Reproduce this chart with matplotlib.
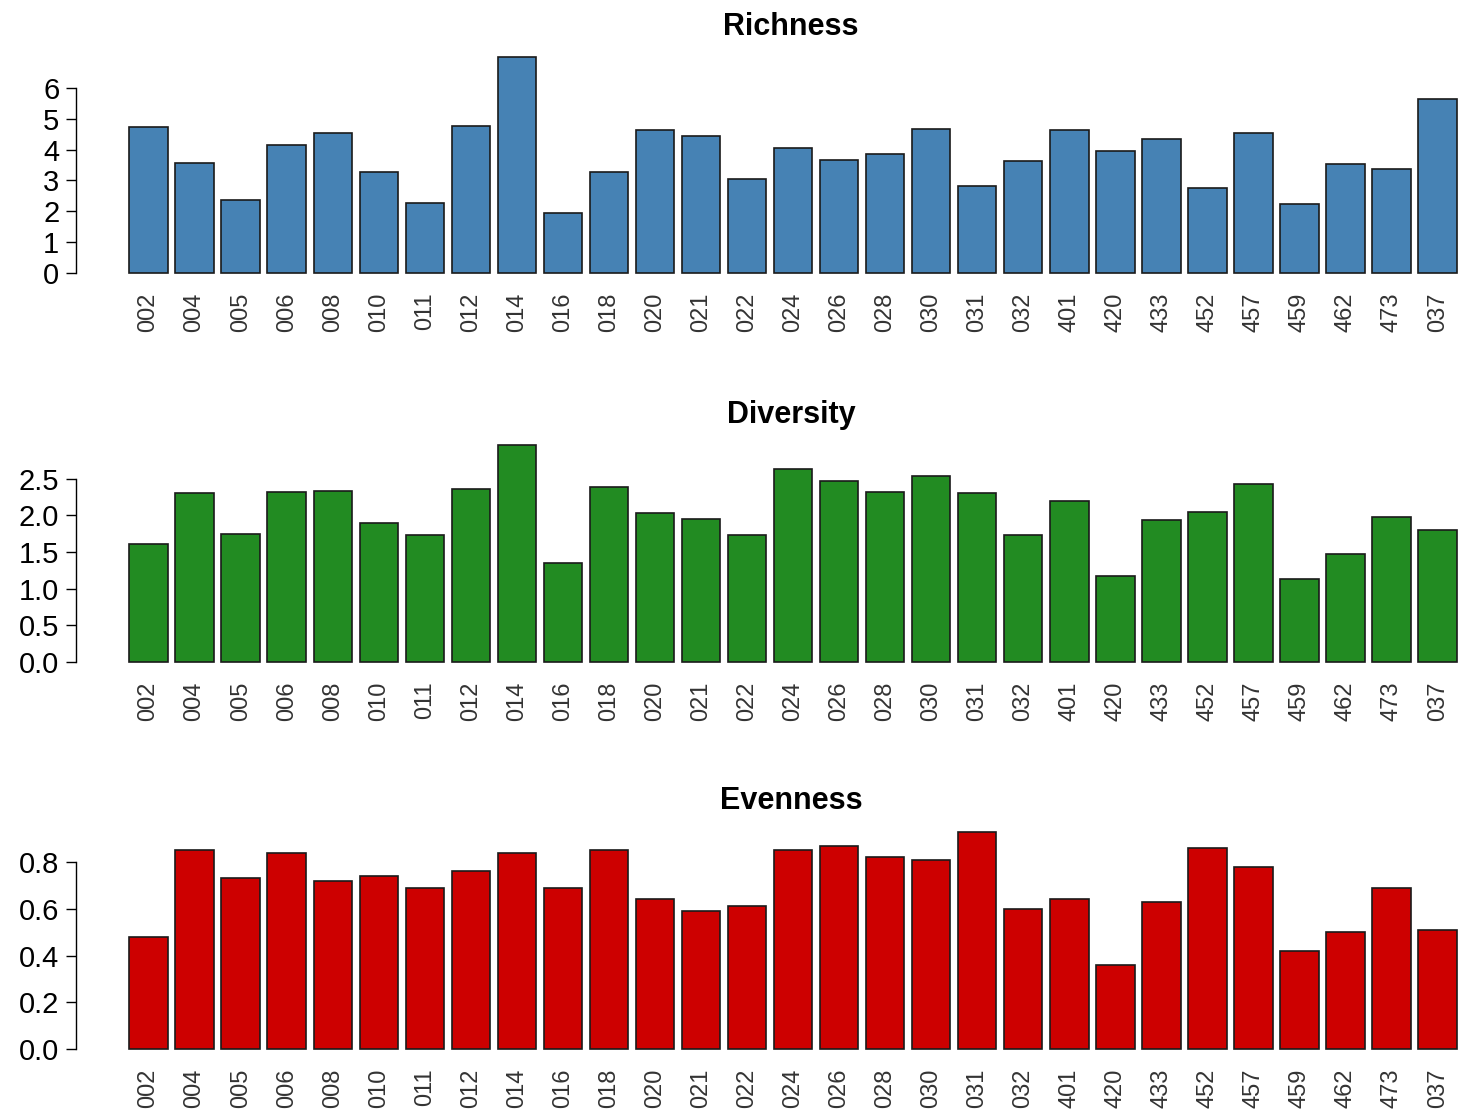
import numpy as np
import matplotlib
matplotlib.use('Agg')
import matplotlib.pyplot as plt

plt.rcParams['font.family'] = ['Liberation Sans', 'DejaVu Sans']

sites = ['002', '004', '005', '006', '008', '010', '011', '012', '014', '016',
         '018', '020', '021', '022', '024', '026', '028', '030', '031', '032',
         '401', '420', '433', '452', '457', '459', '462', '473', '037']

richness = [4.74, 3.57, 2.37, 4.15, 4.54, 3.28, 2.27, 4.77, 7.0, 1.95,
            3.28, 4.64, 4.44, 3.05, 4.05, 3.66, 3.86, 4.67, 2.82, 3.63,
            4.64, 3.96, 4.35, 2.76, 4.54, 2.24, 3.54, 3.37, 5.64]

diversity = [1.61, 2.30, 1.75, 2.32, 2.34, 1.90, 1.73, 2.36, 2.96, 1.35,
             2.39, 2.04, 1.95, 1.73, 2.64, 2.47, 2.32, 2.54, 2.30, 1.73,
             2.20, 1.17, 1.94, 2.05, 2.43, 1.13, 1.48, 1.98, 1.80]

evenness = [0.48, 0.85, 0.73, 0.84, 0.72, 0.74, 0.69, 0.76, 0.84, 0.69,
            0.85, 0.64, 0.59, 0.61, 0.85, 0.87, 0.82, 0.81, 0.93, 0.60,
            0.64, 0.36, 0.63, 0.86, 0.78, 0.42, 0.50, 0.69, 0.51]

panels = [
    ('Richness', richness, '#4682B4', np.arange(0, 7, 1), '{:.0f}'),
    ('Diversity', diversity, '#228B22', np.arange(0, 2.51, 0.5), '{:.1f}'),
    ('Evenness', evenness, '#CD0000', np.arange(0, 0.81, 0.2), '{:.1f}'),
]

# axes rectangles in figure fractions (R barplot layout, right side cropped)
rects = [
    [0.0521, 0.7468, 0.9890, 0.2096],
    [0.0521, 0.3969, 0.9890, 0.2106],
    [0.0521, 0.0488, 0.9890, 0.2111],
]

fig = plt.figure(figsize=(14.58, 11.12), dpi=100)

n = len(sites)
x = np.arange(n) * 1.2 + 0.7

for (title, vals, color, ticks, fmt), rect in zip(panels, rects):
    ax = fig.add_axes(rect)
    ax.bar(x, vals, width=1.0, color=color, edgecolor='#1a1a1a', linewidth=1.2)
    lo, hi = 0.2, n * 1.2 + 0.2
    pad = (hi - lo) * 0.04
    ax.set_xlim(lo - pad, hi + pad)
    ymax = max(vals)
    ax.set_ylim(-0.04 * ymax, 1.04 * ymax)

    for side in ['top', 'right', 'bottom']:
        ax.spines[side].set_visible(False)
    ax.spines['left'].set_bounds(ticks[0], ticks[-1])
    ax.spines['left'].set_linewidth(1.0)

    ax.set_yticks(ticks)
    ax.set_yticklabels([fmt.format(t) for t in ticks], fontsize=21)
    ax.tick_params(axis='y', direction='out', length=7, width=1.0, pad=5)

    ax.set_xticks(x)
    ax.set_xticklabels(sites, rotation=90, fontsize=17, color='#333333')
    ax.tick_params(axis='x', length=0, pad=8)

    ax.set_title(title, fontsize=22, fontweight='bold', pad=10, x=0.496)

fig.savefig('out.png', dpi=100)
